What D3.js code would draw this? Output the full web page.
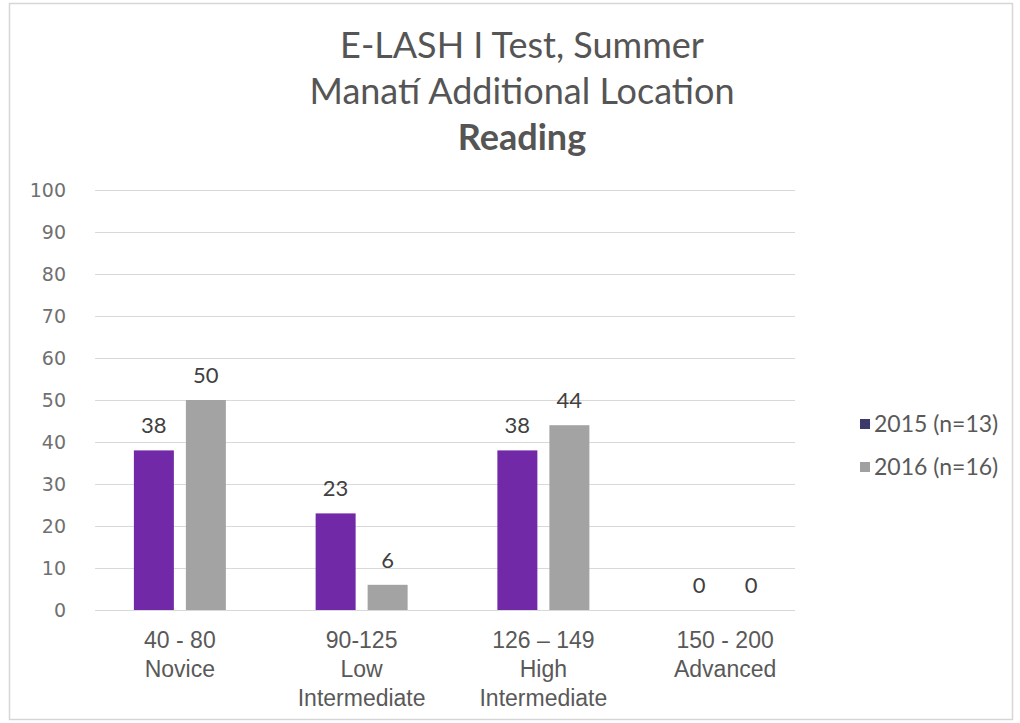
<!DOCTYPE html>
<html>
<head>
<meta charset="utf-8">
<script src="https://cdn.jsdelivr.net/npm/d3@7"></script>
<style>
  html, body { margin: 0; padding: 0; background: #ffffff; }
  svg { display: block; font-family: Lato, "Open Sans", sans-serif; }
</style>
</head>
<body>
<svg id="chart" width="1020" height="723"></svg>
<script>
// ---- data ----
const titleLines = ["E-LASH I Test, Summer", "Manatí Additional Location", "Reading"];
const categories = ["40 - 80|Novice", "90-125|Low|Intermediate", "126 – 149|High|Intermediate", "150 - 200|Advanced"];
const seriesNames = ["2015 (n=13)", "2016 (n=16)"];
const values2015 = [38, 23, 38, 0];
const values2016 = [50, 6, 44, 0];
const yTicks = [0, 10, 20, 30, 40, 50, 60, 70, 80, 90, 100];

const seriesValues = [values2015, values2016];
const barColors = ["#7229a8", "#a3a3a3"];
const legendColors = ["#3b3a6b", "#a0a0a0"];

const svg = d3.select("#chart");

// frame
svg.append("rect").attr("x", 9.5).attr("y", 3.5).attr("width", 1003).attr("height", 716)
  .attr("fill", "#fff").attr("stroke", "#d6d6d6").attr("stroke-width", 1.5);

const y = d3.scaleLinear().domain([0, 100]).range([610, 190]);
const x0 = d3.scaleBand().domain(categories).range([89, 816]).padding(0);
const x1 = d3.scaleBand().domain(seriesNames)
  .range([x0.bandwidth() / 2 - 46, x0.bandwidth() / 2 + 46]).paddingInner(0.2308);

// gridlines via axis
const grid = svg.append("g").attr("transform", "translate(95,0)")
  .call(d3.axisRight(y).tickValues(yTicks).tickSize(700).tickFormat(""));
grid.select(".domain").remove();
grid.selectAll("line").attr("stroke", "#d9d9d9").attr("stroke-width", 1);

// y tick labels
const yAxis = svg.append("g").attr("transform", "translate(66,0)")
  .call(d3.axisLeft(y).tickValues(yTicks).tickSize(0).tickPadding(0));
yAxis.select(".domain").remove();
yAxis.selectAll("text").attr("fill", "#707070").style("font-size", "19px")
  .style("font-family", "'DejaVu Sans', sans-serif");

// bars
const groups = svg.append("g").selectAll("g").data(categories).join("g")
  .attr("transform", d => `translate(${x0(d)},0)`);

seriesNames.forEach((s, si) => {
  groups.append("rect")
    .attr("x", x1(s))
    .attr("width", x1.bandwidth())
    .attr("y", (d, i) => y(seriesValues[si][i]))
    .attr("height", (d, i) => y(0) - y(seriesValues[si][i]))
    .attr("fill", barColors[si]);
  groups.append("text")
    .attr("x", x1(s) + x1.bandwidth() / 2)
    .attr("y", (d, i) => y(seriesValues[si][i]) - 17)
    .attr("text-anchor", "middle")
    .attr("fill", "#404040")
    .style("font-size", "22px")
    .text((d, i) => seriesValues[si][i]);
});

// x axis category labels
const xAxis = svg.append("g").attr("transform", "translate(0,610)")
  .call(d3.axisBottom(x0).tickSize(0).tickFormat(""));
xAxis.select(".domain").remove();
xAxis.selectAll(".tick").each(function(d) {
  const t = d3.select(this).append("text")
    .attr("text-anchor", "middle").attr("fill", "#595959")
    .style("font-size", "23px");
  d.split("|").forEach((line, i) => {
    t.append("tspan").attr("x", 0).attr("y", 38 + i * 29).text(line);
  });
});

// title
const title = svg.append("text").attr("text-anchor", "middle").attr("fill", "#555555");
titleLines.forEach((line, i) => {
  title.append("tspan").attr("x", 522).attr("y", 58 + i * 46)
    .style("font-size", "36px")
    .style("font-weight", i === 2 ? "bold" : "normal")
    .text(line);
});

// legend
const legend = svg.append("g");
seriesNames.forEach((s, i) => {
  const ly = 424 + i * 43;
  legend.append("rect").attr("x", 860).attr("y", ly - 5).attr("width", 10).attr("height", 10)
    .attr("fill", legendColors[i]);
  legend.append("text").attr("x", 874).attr("y", ly + 8)
    .attr("fill", "#595959").style("font-size", "23px").text(s);
});
</script>
</body>
</html>
